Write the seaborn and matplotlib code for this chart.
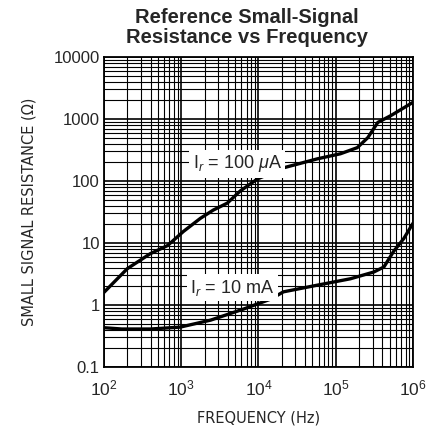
import numpy as np
import pandas as pd
import seaborn as sns
import matplotlib
matplotlib.use("Agg")
import matplotlib.pyplot as plt
from matplotlib.ticker import LogLocator, NullFormatter, FixedLocator

# data
freq_100ua = [1e2, 2e2, 3.95e2, 6.65e2, 1.07e3, 1.77e3, 2.6e3, 3.95e3, 5.8e3, 9.7e3,
              2.1e4, 5.8e4, 1.15e5, 1.9e5, 2.6e5, 3.5e5, 5.2e5, 1e6]
res_100ua = [1.6, 3.85, 6.7, 9.1, 15.4, 25, 34, 44, 69, 108,
             163, 228, 275, 345, 500, 880, 1140, 1860]

freq_10ma = [1e2, 1.7e2, 4e2, 9.7e2, 2.4e3, 6.4e3, 1.45e4, 2.1e4, 5.9e4, 1.55e5,
             3.1e5, 4.2e5, 5.6e5, 7.6e5, 1e6]
res_10ma = [0.43, 0.41, 0.41, 0.44, 0.57, 0.86, 1.25, 1.63, 2.1, 2.65,
            3.4, 4.1, 7.3, 11.8, 20.8]

y_ticks = [0.1, 1, 10, 100, 1000, 10000]
y_ticklabels = ["0.1", "1", "10", "100", "1000", "10000"]
x_ticks = [1e2, 1e3, 1e4, 1e5, 1e6]
x_ticklabels = [r"$10^2$", r"$10^3$", r"$10^4$", r"$10^5$", r"$10^6$"]

df = pd.concat([
    pd.DataFrame({"freq": freq_100ua, "res": res_100ua, "curve": "100uA"}),
    pd.DataFrame({"freq": freq_10ma, "res": res_10ma, "curve": "10mA"}),
])

sns.set_style("white")
plt.rcParams['font.family'] = ['Liberation Sans', 'DejaVu Sans']
plt.rcParams['mathtext.fontset'] = 'custom'
plt.rcParams['mathtext.rm'] = 'Liberation Sans'
plt.rcParams['mathtext.it'] = 'Liberation Sans:italic'

fig = plt.figure(figsize=(4.27, 4.42), dpi=100)
ax = fig.add_axes([104 / 427, 1 - 367 / 442, 309 / 427, 310 / 442])

sns.lineplot(data=df, x="freq", y="res", units="curve", estimator=None,
             color="black", linewidth=2.4, ax=ax, sort=False)
for ln in ax.lines:
    ln.set_solid_joinstyle("round")
    ln.set_solid_capstyle("round")

ax.set_xscale("log")
ax.set_yscale("log")
ax.set_xlim(1e2, 1e6)
ax.set_ylim(0.1, 10000)

ax.xaxis.set_major_locator(FixedLocator(x_ticks))
ax.set_xticklabels(x_ticklabels, fontsize=12.5)
ax.yaxis.set_major_locator(FixedLocator(y_ticks))
ax.set_yticklabels(y_ticklabels, fontsize=12)
ax.xaxis.set_minor_locator(LogLocator(base=10, subs=np.arange(2, 10)))
ax.yaxis.set_minor_locator(LogLocator(base=10, subs=np.arange(2, 10)))
ax.xaxis.set_minor_formatter(NullFormatter())
ax.yaxis.set_minor_formatter(NullFormatter())
ax.tick_params(axis="y", which="both", length=0, pad=3)
ax.tick_params(axis="x", which="both", length=0, pad=8)

ax.grid(True, which="major", color="black", linewidth=1.2)
ax.grid(True, which="minor", color="black", linewidth=0.8)
for s in ax.spines.values():
    s.set_color("black")
    s.set_linewidth(1.3)

ax.set_xlabel("FREQUENCY (Hz)", fontsize=10.5, family="DejaVu Sans", labelpad=9)
ax.set_ylabel("SMALL SIGNAL RESISTANCE (Ω)", fontsize=10.5, family="DejaVu Sans", labelpad=12)

box = dict(facecolor="white", edgecolor="none", pad=2.5)
ax.text(5.3e3, 190, r"I$_r$ = 100 $\mu$A", fontsize=13, ha="center", va="center", bbox=box, zorder=5)
ax.text(4.6e3, 1.9, r"I$_r$ = 10 mA", fontsize=13, ha="center", va="center", bbox=box, zorder=5)

fig.text(247 / 427, 1 - 8 / 442, "Reference Small-Signal\nResistance vs Frequency",
         ha="center", va="top", fontsize=14.5, fontweight="bold", linespacing=1.05)

fig.savefig("out.png", dpi=100)
